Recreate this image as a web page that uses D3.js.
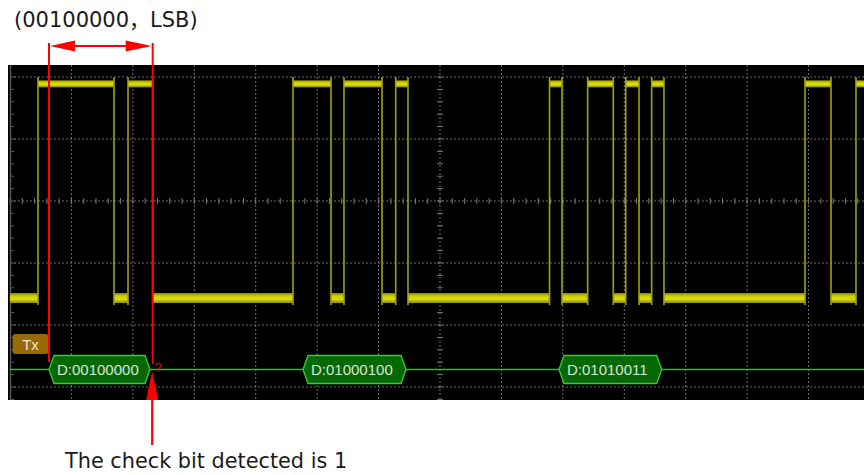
<!DOCTYPE html>
<html><head><meta charset="utf-8">
<script src="https://cdn.jsdelivr.net/npm/d3@7"></script>
<style>html,body{margin:0;padding:0;background:#fff;}svg{display:block;}</style>
</head><body>
<svg id="chart" width="864" height="475"></svg>
<script>
// ---- data (time in horizontal divisions from screen centre, volts in vertical divisions) ----
const initialLevel = 0; // 0 = low, 1 = high
const transitions = [-6.544, -5.307, -5.079, -4.677, -2.393, -1.774, -1.563, -0.944, -0.721, -0.521,
                     1.783, 1.986, 2.404, 2.821, 3.023, 3.240, 3.446, 3.646, 5.942, 6.365, 6.772];
const levelHigh = 1.89, levelLow = -1.565;
const frameStart = [-6.365, -2.230, 1.937];
const frameEnd   = [-4.721, -0.553, 3.609];
const frameLabels = ["D:00100000", "D:01000100", "D:01010011"];
const markerTimes = [-6.365, -4.677];
const topNoteParts = ["(00100000", "，", "LSB)"];
const bottomNote = "The check bit detected is 1";
const channelLabel = "Tx";

const svg = d3.select("#chart");
const x = d3.scaleLinear().domain([-7, 7]).range([10, 870]);
const y = d3.scaleLinear().domain([-2, 2]).range([325, 77]);
const divW = x(1) - x(0), divH = y(0) - y(1);

// screen
svg.append("rect").attr("x", 8).attr("y", 65).attr("width", 856).attr("height", 335).attr("fill", "#000");
const scr = svg.append("g");
scr.append("clipPath").attr("id", "clip").append("rect").attr("x", 8).attr("y", 65).attr("width", 856).attr("height", 335);
const g = scr.append("g").attr("clip-path", "url(#clip)");

// grid
const gridCol = "#6e6e6e";
g.selectAll(".vg").data(d3.range(-6, 8)).join("line")
  .attr("x1", d => x(d)).attr("x2", d => x(d)).attr("y1", 65).attr("y2", 400)
  .attr("stroke", gridCol).attr("stroke-width", 1).attr("stroke-dasharray", "2,2");
g.selectAll(".hg").data([-3, -2, -1, 0, 1, 2]).join("line")
  .attr("x1", 10).attr("x2", 864).attr("y1", d => y(d)).attr("y2", d => y(d))
  .attr("stroke", gridCol).attr("stroke-width", 1).attr("stroke-dasharray", "2,2");
// centre ticks
const minorX = d3.range(-7, 7.01, 0.2);
g.selectAll(".tx").data(minorX).join("line")
  .attr("x1", d => x(d)).attr("x2", d => x(d)).attr("y1", y(0) - 3).attr("y2", y(0) + 3)
  .attr("stroke", "#777").attr("stroke-width", 1);
const minorY = d3.range(-3.2, 2.41, 0.2);
g.selectAll(".ty").data(minorY).join("line")
  .attr("x1", x(0) - 3).attr("x2", x(0) + 3).attr("y1", d => y(d)).attr("y2", d => y(d))
  .attr("stroke", "#777").attr("stroke-width", 1);
// left axis ruler
g.append("line").attr("x1", 10.5).attr("x2", 10.5).attr("y1", 65).attr("y2", 400).attr("stroke", "#555").attr("stroke-width", 1.5);
g.selectAll(".ly").data(minorY).join("line")
  .attr("x1", 10).attr("x2", d => Math.abs(d - Math.round(d)) < 0.01 ? 16 : 14)
  .attr("y1", d => y(d)).attr("y2", d => y(d))
  .attr("stroke", "#555").attr("stroke-width", 1);

// signal trace
const defs = svg.append("defs");
const grad = defs.append("linearGradient").attr("id", "band").attr("x1", 0).attr("x2", 0).attr("y1", 0).attr("y2", 1);
grad.append("stop").attr("offset", "0%").attr("stop-color", "#8a8a00");
grad.append("stop").attr("offset", "30%").attr("stop-color", "#cccc00");
grad.append("stop").attr("offset", "60%").attr("stop-color", "#dede18");
grad.append("stop").attr("offset", "100%").attr("stop-color", "#8a8a00");

const bounds = [-7].concat(transitions).concat([7.2]);
const segs = [];
for (let i = 0; i < bounds.length - 1; i++) {
  segs.push({ t0: bounds[i], t1: bounds[i + 1], lvl: (initialLevel + i) % 2 });
}
g.selectAll(".seg").data(segs).join("rect")
  .attr("x", d => x(d.t0))
  .attr("width", d => x(d.t1) - x(d.t0))
  .attr("y", d => d.lvl ? y(levelHigh) - 3.5 : y(levelLow) - 5)
  .attr("height", d => d.lvl ? 7 : 10)
  .attr("fill", "url(#band)");
g.selectAll(".edge").data(transitions).join("line")
  .attr("x1", d => x(d)).attr("x2", d => x(d))
  .attr("y1", y(levelLow) + 7).attr("y2", y(levelHigh) - divH * 0.11)
  .attr("stroke", "#a3a300").attr("stroke-width", 1.6);

// decode bus
const busY = 369.5;
g.append("line").attr("x1", 10).attr("x2", 864).attr("y1", busY).attr("y2", busY).attr("stroke", "#22c422").attr("stroke-width", 1.5);
const fh = 14, ch = 5;
const frames = frameLabels.map((l, i) => ({ l, a: x(frameStart[i]), b: x(frameEnd[i]) }));
g.selectAll(".frame").data(frames).join("path")
  .attr("d", d => `M${d.a},${busY} L${d.a + ch},${busY - fh} L${d.b - ch},${busY - fh} L${d.b},${busY} L${d.b - ch},${busY + fh} L${d.a + ch},${busY + fh} Z`)
  .attr("fill", "#056805").attr("stroke", "#2fd02f").attr("stroke-width", 1.3);
g.selectAll(".flab").data(frames).join("text")
  .attr("x", d => d.a + 8).attr("y", busY + 5.5)
  .attr("font-family", "Liberation Sans, Arial, sans-serif").attr("font-size", 15)
  .attr("fill", "#d8e6d8").text(d => d.l);

// channel label
g.append("rect").attr("x", 12.5).attr("y", 334).attr("width", 36).attr("height", 20).attr("rx", 3)
  .attr("fill", "#9a6a08");
g.append("text").attr("x", 30.5).attr("y", 349.5).attr("text-anchor", "middle")
  .attr("font-family", "Liberation Sans, Arial, sans-serif").attr("font-size", 15).attr("fill", "#f0e6d0").text(channelLabel);

// red annotations
const red = "#ff0000";
const mx = markerTimes.map(t => x(t));
svg.append("line").attr("x1", mx[0]).attr("x2", mx[0]).attr("y1", 43).attr("y2", 362).attr("stroke", red).attr("stroke-width", 2);
svg.append("line").attr("x1", mx[1]).attr("x2", mx[1]).attr("y1", 43).attr("y2", 364).attr("stroke", red).attr("stroke-width", 2);
const ay = 46;
svg.append("line").attr("x1", mx[0] + 10).attr("x2", mx[1] - 10).attr("y1", ay).attr("y2", ay).attr("stroke", red).attr("stroke-width", 2);
svg.append("path").attr("d", `M${mx[0] + 1},${ay} L${mx[0] + 26},${ay - 5.5} L${mx[0] + 26},${ay + 5.5} Z`).attr("fill", red);
svg.append("path").attr("d", `M${mx[1] - 1},${ay} L${mx[1] - 27},${ay - 5.5} L${mx[1] - 27},${ay + 5.5} Z`).attr("fill", red);
svg.append("text").attr("x", mx[1] + 2).attr("y", 372).attr("font-family", "Liberation Sans, Arial, sans-serif")
  .attr("font-size", 12).attr("fill", "#e00000").text("?");
// bottom arrow
const bx = mx[1] - 0.5;
svg.append("line").attr("x1", bx).attr("x2", bx).attr("y1", 445).attr("y2", 395).attr("stroke", red).attr("stroke-width", 2.2);
svg.append("path").attr("d", `M${bx},${371} L${bx - 6},${400} L${bx + 6},${400} Z`).attr("fill", red);

// notes
const tn = svg.append("text").attr("x", 14).attr("y", 27).attr("font-family", "DejaVu Sans, Verdana, sans-serif")
  .attr("font-size", 21).attr("fill", "#1a1a1a");
tn.append("tspan").text(topNoteParts[0]);
tn.append("tspan").attr("font-family", "Noto Sans CJK SC").text(topNoteParts[1]);
tn.append("tspan").text(topNoteParts[2]);
svg.append("text").attr("x", 65).attr("y", 468).attr("font-family", "DejaVu Sans, Verdana, sans-serif")
  .attr("font-size", 20.8).attr("fill", "#1a1a1a").text(bottomNote);
</script>
</body></html>
